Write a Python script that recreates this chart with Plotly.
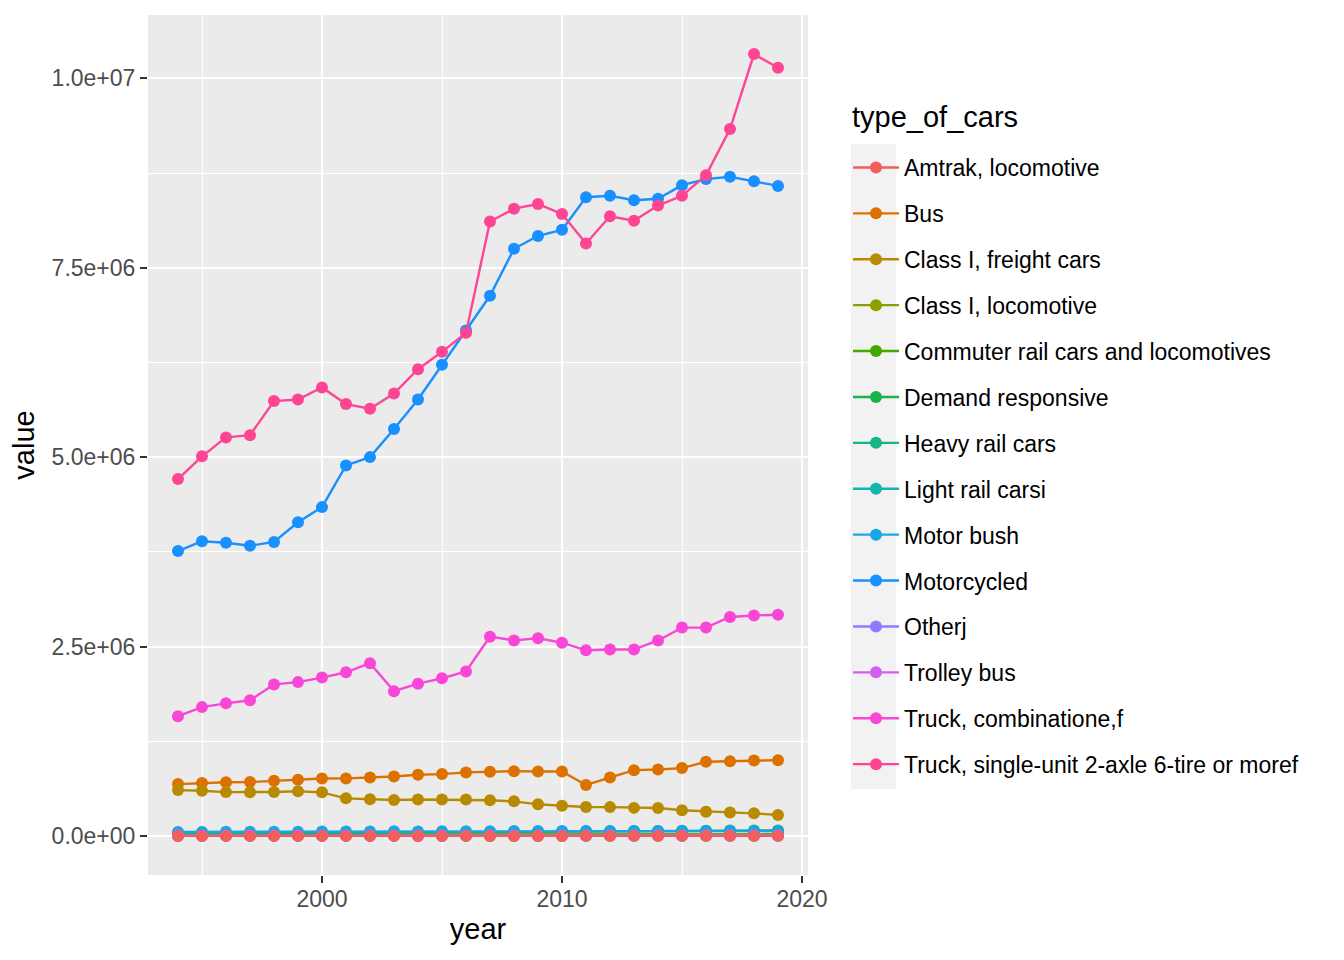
import plotly.graph_objects as go

years = list(range(1994, 2020))

type_of_cars = [
    "Amtrak, locomotive", "Bus", "Class I, freight cars", "Class I, locomotive",
    "Commuter rail cars and locomotives", "Demand responsive", "Heavy rail cars",
    "Light rail carsi", "Motor bush", "Motorcycled", "Otherj", "Trolley bus",
    "Truck, combinatione,f", "Truck, single-unit 2-axle 6-tire or moref",
]

amtrak_loco = [299, 313, 332, 345, 353, 369, 378, 401, 372, 442, 276, 258, 319,
               270, 278, 274, 282, 410, 418, 428, 427, 448, 447, 416, 436, 430]
bus = [684000, 697000, 708000, 711000, 728000, 742000, 758000, 759000, 771000,
       785000, 808000, 816000, 838000, 846000, 855000, 850000, 850000, 672000,
       770000, 868000, 877000, 895000, 978000, 985000, 996000, 1000000]
class1_freight = [605000, 597000, 578000, 576000, 580000, 590000, 575000, 496000,
                  483000, 474000, 480000, 480000, 480000, 470000, 456000, 417000,
                  399000, 381000, 380000, 370000, 368000, 338000, 320000, 310000,
                  298000, 276000]
class1_loco = [18505, 18812, 19269, 19684, 20261, 20256, 20028, 19745, 20506, 20774,
               22015, 22779, 23732, 24143, 24003, 24045, 23893, 24250, 25033, 25916,
               26574, 26546, 26086, 25943, 25830, 25210]
commuter = [5126, 5164, 5153, 5231, 5339, 5454, 5498, 5572, 5716, 6018, 6142, 6244,
            6365, 6422, 6533, 6799, 6861, 6942, 7159, 7117, 7160, 7192, 7162, 7269,
            7314, 7398]
demand_resp = [29937, 31459, 32534, 33308, 34515, 33731, 33080, 34661, 34699, 35954,
               37078, 37301, 41958, 43509, 51660, 53217, 56021, 60043, 61645, 64306,
               65781, 67071, 68412, 70164, 71327, 72412]
heavy_rail = [10138, 10157, 10164, 10147, 10261, 10296, 10311, 10718, 10849, 10754,
              10858, 11110, 11052, 11377, 11222, 11461, 11510, 10966, 10800, 10794,
              10802, 10829, 10836, 10850, 10904, 11022]
light_rail = [1023, 1049, 1131, 1175, 1180, 1221, 1577, 1443, 1448, 1482, 1622, 1645,
              1801, 1810, 1948, 2000, 2096, 2198, 2231, 2289, 2296, 2320, 2358, 2425,
              2475, 2552]
motor_bus = [52403, 53209, 53479, 54131, 55171, 56376, 57633, 57850, 58333, 60183,
             59691, 60146, 60669, 62084, 63343, 64271, 63976, 63676, 63573, 63811,
             64500, 65033, 64770, 64872, 65223, 66079]
motorcycle = [3760000, 3890000, 3870000, 3830000, 3880000, 4140000, 4340000, 4890000,
              5000000, 5370000, 5760000, 6220000, 6670000, 7130000, 7750000, 7920000,
              8000000, 8430000, 8450000, 8390000, 8410000, 8590000, 8670000, 8700000,
              8640000, 8580000]
other = [5281, 5321, 5461, 5578, 5715, 5839, 5922, 6092, 6267, 6377, 6552, 6613, 6793,
         7034, 7198, 7345, 7561, 7698, 7893, 8002, 8115, 8291, 8486, 8623, 8790, 8914]
trolley_bus = [885, 907, 859, 841, 951, 859, 951, 600, 616, 672, 597, 615, 609, 559,
               599, 580, 571, 536, 567, 549, 558, 562, 541, 581, 535, 546]
truck_comb = [1580000, 1700000, 1750000, 1790000, 2000000, 2030000, 2090000, 2160000,
              2280000, 1910000, 2010000, 2080000, 2170000, 2630000, 2580000, 2610000,
              2550000, 2450000, 2460000, 2460000, 2580000, 2750000, 2750000, 2890000,
              2910000, 2920000]
truck_single = [4710000, 5010000, 5260000, 5290000, 5740000, 5760000, 5920000, 5700000,
                5640000, 5840000, 6160000, 6390000, 6640000, 8110000, 8280000, 8340000,
                8210000, 7820000, 8180000, 8120000, 8320000, 8450000, 8720000, 9330000,
                10320000, 10140000]

values = [amtrak_loco, bus, class1_freight, class1_loco, commuter, demand_resp,
          heavy_rail, light_rail, motor_bus, motorcycle, other, trolley_bus,
          truck_comb, truck_single]

colors = ["#F35E5A", "#DC7100", "#B88A00", "#8E9D00", "#45A800", "#1AB34B", "#15B789",
          "#16B4B0", "#19A7E3", "#1990FF", "#9178FF", "#D65CF2", "#F946D6", "#FE4594"]

y_ticks = [0, 2500000, 5000000, 7500000, 10000000]
y_ticktext = ["0.0e+00", "2.5e+06", "5.0e+06", "7.5e+06", "1.0e+07"]
x_ticks = [2000, 2010, 2020]

# page has an 8px body margin, so plot area is placed with that in mind
W, H = 1336, 952
L, R, T, B = 140, 536, 7, 85
pw, ph = W - L - R, H - T - B


def px_x(x):
    return (x - 8 - L) / pw


def px_y(y):
    return 1 - (y - 8 - T) / ph


fig = go.Figure()

# Amtrak last so its dots sit on top at the bottom
draw_order = list(range(1, 14)) + [0]
for i in draw_order:
    fig.add_trace(go.Scatter(
        x=years, y=values[i], name=type_of_cars[i], mode="lines+markers",
        line=dict(color=colors[i], width=2.4),
        marker=dict(color=colors[i], size=12),
        legendgroup=type_of_cars[i], legendrank=i + 1,
    ))

# grey key background like ggplot
fig.add_shape(type="rect", xref="paper", yref="paper",
              x0=px_x(851), x1=px_x(896), y0=px_y(789), y1=px_y(144),
              fillcolor="#F2F2F2", line=dict(width=0), layer="below")

fig.add_annotation(text="type_of_cars", xref="paper", yref="paper",
                   x=px_x(850), y=px_y(117), xanchor="left", yanchor="middle",
                   showarrow=False, font=dict(size=29, color="black"))

fig.update_layout(
    width=W, height=H,
    margin=dict(l=L, r=R, t=T, b=B),
    paper_bgcolor="white", plot_bgcolor="#EBEBEB",
    font=dict(family="Liberation Sans, Arial, sans-serif", color="black"),
    legend=dict(
        font=dict(size=23), x=px_x(848), xanchor="left",
        y=px_y(146), yanchor="top",
        traceorder="grouped", tracegroupgap=13, itemwidth=46,
        bgcolor="rgba(0,0,0,0)",
    ),
    xaxis=dict(
        range=[1992.75, 2020.25], tickvals=x_ticks, ticks="outside", ticklen=7,
        tickwidth=2, tickcolor="#333333", tickfont=dict(size=23, color="#4D4D4D"),
        ticklabelstandoff=-4,
        gridcolor="white", gridwidth=2, automargin=False,
        minor=dict(dtick=5, tick0=1995, showgrid=True, gridcolor="white", gridwidth=1),
        title=dict(text="year", font=dict(size=29), standoff=8), zeroline=False,
    ),
    yaxis=dict(
        range=[-516000, 10836000], tickvals=y_ticks, ticktext=y_ticktext,
        ticks="outside", ticklen=7, tickwidth=2, tickcolor="#333333",
        tickfont=dict(size=23, color="#4D4D4D"),
        gridcolor="white", gridwidth=2, automargin=False,
        minor=dict(dtick=1250000, tick0=1250000, showgrid=True, gridcolor="white",
                   gridwidth=1),
        title=dict(text="value", font=dict(size=29), standoff=12), zeroline=False,
    ),
)

fig.write_html("out.html")
